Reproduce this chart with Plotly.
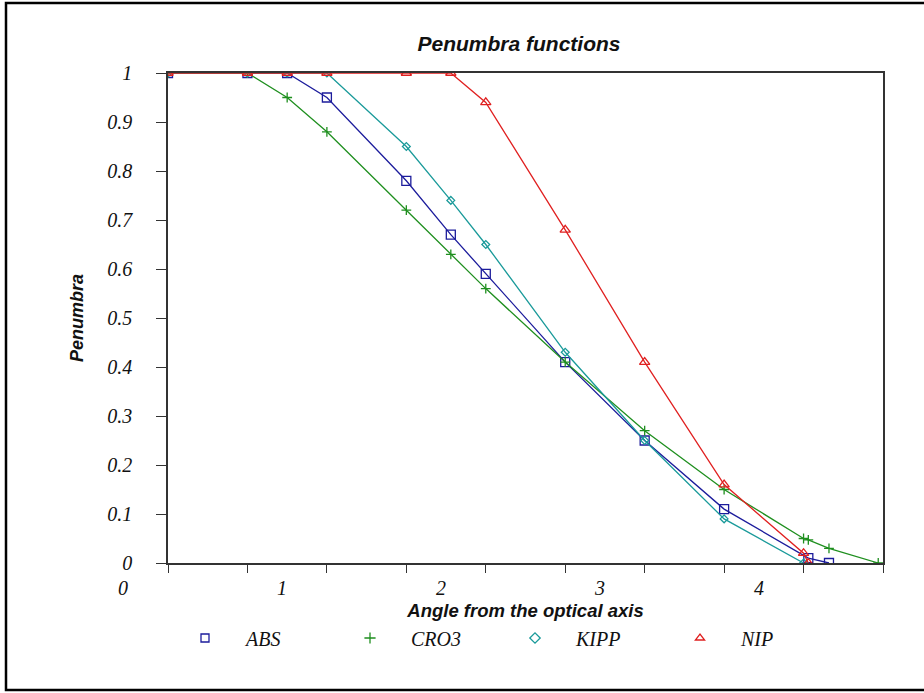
import plotly.graph_objects as go

# ---- data ----
abs_x = [0, 0.5, 0.75, 1.0, 1.5, 1.78, 2.0, 2.5, 3.0, 3.5, 4.03, 4.16]
abs_y = [1, 1, 1, 0.95, 0.78, 0.67, 0.59, 0.41, 0.25, 0.11, 0.01, 0.0]

cro3_x = [0, 0.5, 0.75, 1.0, 1.5, 1.78, 2.0, 2.5, 3.0, 3.5, 4.0, 4.03, 4.16, 4.47]
cro3_y = [1, 1, 0.95, 0.88, 0.72, 0.63, 0.56, 0.41, 0.27, 0.15, 0.05, 0.047, 0.03, 0.0]

kipp_x = [0, 0.5, 0.75, 1.0, 1.5, 1.78, 2.0, 2.5, 3.0, 3.5, 4.0]
kipp_y = [1, 1, 1, 1, 0.85, 0.74, 0.65, 0.43, 0.25, 0.09, 0.0]

nip_x = [0, 0.5, 0.75, 1.0, 1.5, 1.78, 2.0, 2.5, 3.0, 3.5, 4.0, 4.03]
nip_y = [1, 1, 1, 1, 1, 1, 0.94, 0.68, 0.41, 0.16, 0.02, 0.0]

x_tick_labels = ["0", "1", "2", "3", "4"]
x_label_shift = -0.283  # labels in the reference sit offset from the tick marks
x_range = [0, 4.5]

series = [
    ("ABS", abs_x, abs_y, "#1c1c9c", "square-open", 9),
    ("CRO3", cro3_x, cro3_y, "#1f8f1f", "cross-thin", 7),
    ("KIPP", kipp_x, kipp_y, "#1a9a9a", "diamond-open", 6),
    ("NIP", nip_x, nip_y, "#e02020", "triangle-up-open", 9),
]

serif = "Liberation Serif, Times New Roman, serif"
sans = "Liberation Sans, Arial, sans-serif"

fig = go.Figure()
for name, xs, ys, col, sym, sz in series:
    fig.add_trace(go.Scatter(
        x=xs, y=ys, mode="lines+markers", name=name, showlegend=False,
        line=dict(color=col, width=1.3),
        marker=dict(symbol=sym, size=sz, color=col, line=dict(color=col, width=1.3)),
    ))
for name, xs, ys, col, sym, sz in series:
    fig.add_trace(go.Scatter(
        x=[None], y=[None], mode="markers", name=name, showlegend=True,
        marker=dict(symbol=sym, size=8, color=col, line=dict(color=col, width=1.3)),
    ))

for i, lab in enumerate(x_tick_labels):
    fig.add_annotation(x=(i + x_label_shift - x_range[0]) / (x_range[1] - x_range[0]),
                       y=-(588 - 563) / 490, xref="paper", yref="paper",
                       text=lab, showarrow=False,
                       font=dict(family=serif, size=20, color="#111", style="italic"),
                       xanchor="center", yanchor="middle")

fig.update_layout(
    width=924, height=693,
    margin=dict(l=168, r=41, t=73, b=130),
    paper_bgcolor="white", plot_bgcolor="white",
    title=dict(text="<b><i>Penumbra functions</i></b>", x=519 / 924, xref="container",
               xanchor="center", y=1 - 43.5 / 693, yref="container", yanchor="middle",
               font=dict(family=sans, size=21, color="#111")),
    xaxis=dict(range=x_range, dtick=0.5, tick0=0, showticklabels=False,
               ticks="outside", ticklen=8, tickcolor="#333", tickwidth=1.3,
               showline=True, linecolor="#333", linewidth=1.5, mirror=True,
               showgrid=False, zeroline=False,
               title=dict(text="<b><i>Angle from the optical axis</i></b>", standoff=32,
                          font=dict(family=sans, size=18.5, color="#111"))),
    yaxis=dict(range=[0, 1], dtick=0.1, tick0=0,
               ticks="outside", ticklen=10, tickcolor="#333", tickwidth=1.3,
               ticklabelstandoff=20,
               tickfont=dict(family=serif, size=20, color="#111", style="italic"),
               showline=True, linecolor="#333", linewidth=1.5, mirror=True,
               showgrid=False, zeroline=False,
               title=dict(text="<b><i>Penumbra</i></b>", standoff=19,
                          font=dict(family=sans, size=18, color="#111"))),
    legend=dict(orientation="h", x=(164 - 168) / 715, xanchor="left",
                y=-(638 - 563) / 490, yanchor="middle",
                entrywidth=78, entrywidthmode="pixels", itemwidth=72,
                font=dict(family=serif, size=20, color="#111", style="italic"),
                bgcolor="rgba(0,0,0,0)"),
    shapes=[dict(type="rect", xref="paper", yref="paper",
                 x0=(6 - 168) / 715, x1=(930 - 168) / 715,
                 y0=-(690 - 563) / 490, y1=1 + (73 - 3) / 490,
                 line=dict(color="black", width=2.5), layer="below")],
)

fig.write_html("out.html", config={"displayModeBar": False},
               post_script="document.body.style.margin='0px';")
